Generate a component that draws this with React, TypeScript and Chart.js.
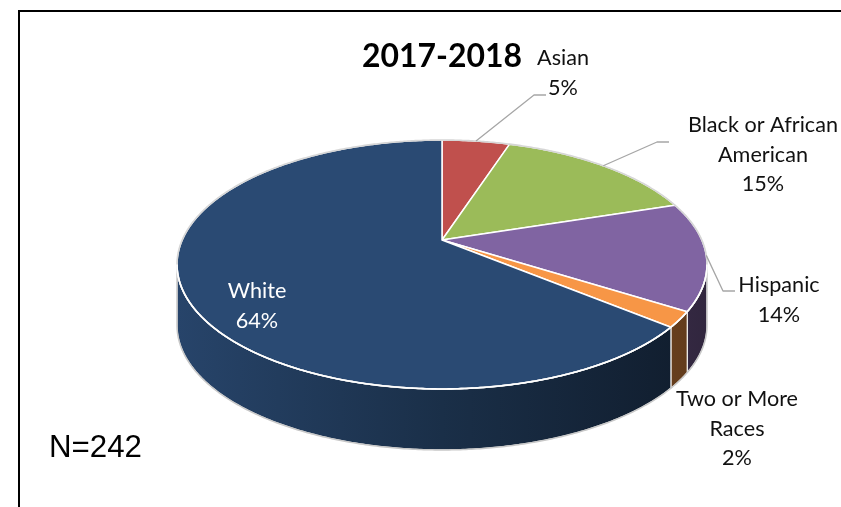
import React, { useEffect, useRef } from "react";
import { Chart, registerables } from "chart.js";

Chart.register(...registerables);

// ---- data ----
const categories = ["Asian", "Black or African American", "Hispanic", "Two or More Races", "White"];
const percentValues = [5, 15, 14, 2, 64];
const sliceColors = ["#C0504D", "#9BBB59", "#8064A2", "#F79646", "#2A4A73"];
const labelNameLines = [["Asian"], ["Black or African", "American"], ["Hispanic"], ["Two or More", "Races"], ["White"]];
const titleText = "2017-2018";
const noteText = "N=242";

// ---- layout / style (not data) ----
const VX = 442; // apex of the tilted pie
const VY = 240;
const SX = 259.8;
const PA = 72.4;
const PC = -0.1968;
const DEPTH = 61;
const PHI_R = Math.asin(-PC);
const PHI_L = Math.PI - PHI_R;
const labelAnchors = [
  { x: 563, y: 65, color: "#111" },
  { x: 763, y: 132, color: "#111" },
  { x: 779, y: 292, color: "#111" },
  { x: 737, y: 406, color: "#111" },
  { x: 257, y: 298, color: "#fff" },
];
const leaderElbows: ({ x: number; y: number }[] | null)[] = [
  [{ x: 534, y: 95 }, { x: 546, y: 95 }],
  [{ x: 657, y: 142 }, { x: 669, y: 142 }],
  [{ x: 723, y: 291 }, { x: 735, y: 291 }],
  null,
  null,
];
const LINE_GAP = 29.5;
const FONT_FAMILY = '"Lato", "Open Sans", sans-serif';

function proj(phi: number, dy = 0) {
  const u = Math.cos(phi);
  const v = Math.sin(phi);
  const w = 1 + PC * v;
  return { x: VX + (SX * u) / w, y: (PA * v + VY) / w + dy };
}

function rim(ctx: CanvasRenderingContext2D, a0: number, a1: number, dy: number, move: boolean) {
  const n = Math.max(2, Math.ceil(Math.abs(a1 - a0) / (Math.PI / 360)));
  for (let i = 0; i <= n; i++) {
    const p = proj(a0 + ((a1 - a0) * i) / n, dy);
    if (i === 0 && move) ctx.moveTo(p.x, p.y);
    else ctx.lineTo(p.x, p.y);
  }
}

function shade(hex: string, f: number) {
  const n = parseInt(hex.slice(1), 16);
  const r = Math.round(((n >> 16) & 255) * f);
  const g = Math.round(((n >> 8) & 255) * f);
  const b = Math.round((n & 255) * f);
  return `rgb(${r},${g},${b})`;
}

function fitSize(ctx: CanvasRenderingContext2D, text: string, weight: string, family: string, target: number) {
  ctx.font = `${weight} 100px ${family}`;
  const w = ctx.measureText(text).width;
  return (100 * target) / w;
}

const pie3dPlugin = {
  id: "pie3d",
  beforeDatasetsDraw(chart: any) {
    const ctx: CanvasRenderingContext2D = chart.ctx;
    const meta = chart.getDatasetMeta(0);
    const arcs = meta.data.map((el: any) => el.getProps(["startAngle", "endAngle"], true));
    const colors = chart.data.datasets[0].backgroundColor as string[];
    ctx.save();

    // side walls
    arcs.forEach((a: any, i: number) => {
      const s0 = Math.max(a.startAngle, PHI_R);
      const s1 = Math.min(a.endAngle, PHI_L);
      if (s1 <= s0) return;
      const g = ctx.createLinearGradient(VX - SX * 1.02, 0, VX + SX * 1.02, 0);
      g.addColorStop(0, shade(colors[i], 0.92));
      g.addColorStop(0.5, shade(colors[i], 0.63));
      g.addColorStop(1, shade(colors[i], 0.38));
      ctx.beginPath();
      rim(ctx, s0, s1, 0, true);
      rim(ctx, s1, s0, DEPTH, false);
      ctx.closePath();
      ctx.fillStyle = g;
      ctx.fill();
      ctx.strokeStyle = "rgba(255,255,255,0.85)";
      ctx.lineWidth = 1.2;
      ctx.stroke();
    });

    // outline of lower silhouette
    ctx.beginPath();
    const pr = proj(PHI_R);
    ctx.moveTo(pr.x, pr.y);
    rim(ctx, PHI_R, PHI_L, DEPTH, false);
    const pl = proj(PHI_L);
    ctx.lineTo(pl.x, pl.y);
    ctx.strokeStyle = "#C8C8C8";
    ctx.lineWidth = 1.5;
    ctx.stroke();

    // top faces
    arcs.forEach((a: any, i: number) => {
      ctx.beginPath();
      ctx.moveTo(VX, VY);
      rim(ctx, a.startAngle, a.endAngle, 0, false);
      ctx.closePath();
      ctx.fillStyle = colors[i];
      ctx.fill();
      ctx.strokeStyle = "#FFFFFF";
      ctx.lineWidth = 1.5;
      ctx.lineJoin = "round";
      ctx.stroke();
    });

    // rim of top face
    ctx.beginPath();
    rim(ctx, 0, Math.PI * 2, 0, true);
    ctx.closePath();
    ctx.strokeStyle = "#D6D6D6";
    ctx.lineWidth = 1.6;
    ctx.stroke();
    ctx.beginPath();
    rim(ctx, PHI_R, PHI_L, 0, true);
    ctx.strokeStyle = "#FFFFFF";
    ctx.lineWidth = 1.6;
    ctx.stroke();

    // leader lines
    arcs.forEach((a: any, i: number) => {
      const el = leaderElbows[i];
      if (!el) return;
      const p = proj((a.startAngle + a.endAngle) / 2);
      ctx.beginPath();
      ctx.moveTo(p.x, p.y);
      el.forEach((q) => ctx.lineTo(q.x, q.y));
      ctx.strokeStyle = "#A6A6A6";
      ctx.lineWidth = 1.3;
      ctx.stroke();
    });

    ctx.restore();
    return false;
  },
  afterDraw(chart: any) {
    const ctx: CanvasRenderingContext2D = chart.ctx;
    const values = chart.data.datasets[0].data as number[];
    ctx.save();
    ctx.textAlign = "center";
    ctx.textBaseline = "alphabetic";

    // title
    const ts = fitSize(ctx, titleText, "bold", FONT_FAMILY, 160);
    ctx.font = `bold ${ts}px ${FONT_FAMILY}`;
    ctx.fillStyle = "#000";
    ctx.fillText(titleText, 442, 67);

    // labels
    const ls = fitSize(ctx, "Black or African", "normal", FONT_FAMILY, 150);
    ctx.font = `normal ${ls}px ${FONT_FAMILY}`;
    labelNameLines.forEach((lines, i) => {
      const anc = labelAnchors[i];
      ctx.fillStyle = anc.color;
      const all = [...lines, `${values[i]}%`];
      all.forEach((t, k) => ctx.fillText(t, anc.x, anc.y + k * LINE_GAP));
    });

    // note
    const ns = fitSize(ctx, noteText, "normal", '"Liberation Sans", Arial, sans-serif', 93);
    ctx.font = `normal ${ns}px "Liberation Sans", Arial, sans-serif`;
    ctx.textAlign = "left";
    ctx.fillStyle = "#000";
    ctx.fillText(noteText, 49, 457);
    ctx.restore();
  },
};

export default function App() {
  const ref = useRef<HTMLCanvasElement | null>(null);
  useEffect(() => {
    if (!ref.current) return;
    const chart = new Chart(ref.current, {
      type: "pie",
      data: {
        labels: categories,
        datasets: [
          {
            data: percentValues,
            backgroundColor: sliceColors,
            borderColor: "#FFFFFF",
            borderWidth: 1.5,
          },
        ],
      },
      options: {
        responsive: false,
        animation: false,
        devicePixelRatio: 1,
        plugins: {
          legend: { display: false },
          tooltip: { enabled: false },
          title: { display: false },
        },
      },
      plugins: [pie3dPlugin],
    });
    return () => chart.destroy();
  }, []);

  return (
    <div style={{ position: "absolute", left: 0, top: 0, width: 841, height: 507, background: "#fff", overflow: "hidden" }}>
      <div
        style={{
          position: "absolute",
          left: 18,
          top: 10,
          width: 841 - 18,
          height: 507 - 10,
          borderTop: "2px solid #000",
          borderLeft: "2px solid #000",
          boxSizing: "border-box",
        }}
      />
      <canvas ref={ref} width={841} height={507} style={{ position: "absolute", left: 0, top: 0, display: "block" }} />
    </div>
  );
}
